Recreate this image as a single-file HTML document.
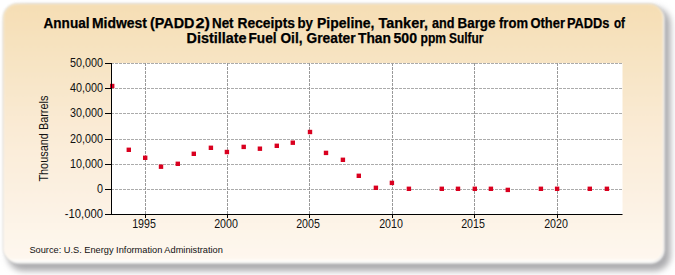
<!DOCTYPE html>
<html><head><meta charset="utf-8"><style>
html,body{margin:0;padding:0;background:#fff;width:675px;height:275px;overflow:hidden}
svg{display:block}
text{font-family:"Liberation Sans",sans-serif}
</style></head><body>
<svg width="675" height="275" viewBox="0 0 675 275">
<defs>
<linearGradient id="bg" x1="0" y1="0" x2="0" y2="1">
<stop offset="0" stop-color="#F5DEB4"/>
<stop offset="0.5" stop-color="#FAEBD6"/>
<stop offset="0.985" stop-color="#FEF7EE"/>
<stop offset="1" stop-color="#FFFFFF"/>
</linearGradient>
<filter id="sh" x="-5%" y="-5%" width="110%" height="115%"><feGaussianBlur stdDeviation="3"/></filter>
<filter id="soft" x="-2%" y="-2%" width="104%" height="104%"><feGaussianBlur stdDeviation="1.1"/></filter>
</defs>
<rect x="7.5" y="7.5" width="663" height="263.5" rx="16" ry="16" fill="#acacaf" filter="url(#sh)"/>
<rect x="5" y="5.5" width="659.5" height="258" rx="14" ry="14" fill="#fff" filter="url(#soft)"/>
<rect x="3.5" y="4" width="659.5" height="258" rx="14" ry="14" fill="none" stroke="#8a8a80" stroke-opacity="0.25" stroke-width="1.5" filter="url(#soft)"/>
<rect x="3.5" y="4" width="659.5" height="258" rx="14" ry="14" fill="url(#bg)" filter="url(#soft)"/>

<rect x="111" y="63" width="511.5" height="151" fill="#fff"/>
<line x1="111" y1="63.5" x2="622.5" y2="63.5" stroke="#ababab" stroke-width="1" stroke-dasharray="3,1"/>
<line x1="111" y1="88.5" x2="622.5" y2="88.5" stroke="#ababab" stroke-width="1" stroke-dasharray="3,1"/>
<line x1="111" y1="113.5" x2="622.5" y2="113.5" stroke="#ababab" stroke-width="1" stroke-dasharray="3,1"/>
<line x1="111" y1="139.5" x2="622.5" y2="139.5" stroke="#ababab" stroke-width="1" stroke-dasharray="3,1"/>
<line x1="111" y1="164.5" x2="622.5" y2="164.5" stroke="#ababab" stroke-width="1" stroke-dasharray="3,1"/>
<line x1="111" y1="189.5" x2="622.5" y2="189.5" stroke="#ababab" stroke-width="1" stroke-dasharray="3,1"/>
<line x1="145.5" y1="63" x2="145.5" y2="214" stroke="#999999" stroke-width="1" stroke-dasharray="3,1"/>
<line x1="227.5" y1="63" x2="227.5" y2="214" stroke="#999999" stroke-width="1" stroke-dasharray="3,1"/>
<line x1="309.5" y1="63" x2="309.5" y2="214" stroke="#999999" stroke-width="1" stroke-dasharray="3,1"/>
<line x1="392.5" y1="63" x2="392.5" y2="214" stroke="#999999" stroke-width="1" stroke-dasharray="3,1"/>
<line x1="474.5" y1="63" x2="474.5" y2="214" stroke="#999999" stroke-width="1" stroke-dasharray="3,1"/>
<line x1="557.5" y1="63" x2="557.5" y2="214" stroke="#999999" stroke-width="1" stroke-dasharray="3,1"/>
<rect x="110.00" y="83.80" width="4.4" height="4.4" fill="#D9001F"/>
<rect x="126.60" y="147.60" width="4.4" height="4.4" fill="#D9001F"/>
<rect x="143.00" y="155.60" width="4.4" height="4.4" fill="#D9001F"/>
<rect x="158.80" y="164.50" width="4.4" height="4.4" fill="#D9001F"/>
<rect x="175.60" y="161.60" width="4.4" height="4.4" fill="#D9001F"/>
<rect x="191.60" y="151.60" width="4.4" height="4.4" fill="#D9001F"/>
<rect x="208.70" y="145.60" width="4.4" height="4.4" fill="#D9001F"/>
<rect x="224.70" y="149.80" width="4.4" height="4.4" fill="#D9001F"/>
<rect x="241.50" y="144.70" width="4.4" height="4.4" fill="#D9001F"/>
<rect x="257.70" y="146.50" width="4.4" height="4.4" fill="#D9001F"/>
<rect x="274.60" y="143.60" width="4.4" height="4.4" fill="#D9001F"/>
<rect x="290.60" y="140.50" width="4.4" height="4.4" fill="#D9001F"/>
<rect x="307.80" y="129.80" width="4.4" height="4.4" fill="#D9001F"/>
<rect x="323.80" y="150.70" width="4.4" height="4.4" fill="#D9001F"/>
<rect x="340.70" y="157.60" width="4.4" height="4.4" fill="#D9001F"/>
<rect x="356.60" y="173.60" width="4.4" height="4.4" fill="#D9001F"/>
<rect x="373.70" y="185.60" width="4.4" height="4.4" fill="#D9001F"/>
<rect x="389.70" y="180.70" width="4.4" height="4.4" fill="#D9001F"/>
<rect x="406.70" y="186.60" width="4.4" height="4.4" fill="#D9001F"/>
<rect x="439.60" y="186.60" width="4.4" height="4.4" fill="#D9001F"/>
<rect x="455.80" y="186.60" width="4.4" height="4.4" fill="#D9001F"/>
<rect x="472.60" y="186.60" width="4.4" height="4.4" fill="#D9001F"/>
<rect x="488.70" y="186.60" width="4.4" height="4.4" fill="#D9001F"/>
<rect x="505.60" y="187.70" width="4.4" height="4.4" fill="#D9001F"/>
<rect x="538.70" y="186.60" width="4.4" height="4.4" fill="#D9001F"/>
<rect x="554.90" y="186.60" width="4.4" height="4.4" fill="#D9001F"/>
<rect x="587.60" y="186.60" width="4.4" height="4.4" fill="#D9001F"/>
<rect x="604.70" y="186.60" width="4.4" height="4.4" fill="#D9001F"/>
<rect x="111" y="63" width="1" height="152" fill="#000"/>
<rect x="111" y="214" width="511.5" height="1" fill="#000"/>
<rect x="105" y="63.0" width="6" height="1" fill="#000"/>
<text transform="translate(103,66.70) scale(0.9,1)" font-size="12" text-anchor="end" fill="#111">50,000</text>
<rect x="105" y="88.0" width="6" height="1" fill="#000"/>
<text transform="translate(103,91.70) scale(0.9,1)" font-size="12" text-anchor="end" fill="#111">40,000</text>
<rect x="105" y="113.0" width="6" height="1" fill="#000"/>
<text transform="translate(103,116.70) scale(0.9,1)" font-size="12" text-anchor="end" fill="#111">30,000</text>
<rect x="105" y="139.0" width="6" height="1" fill="#000"/>
<text transform="translate(103,142.70) scale(0.9,1)" font-size="12" text-anchor="end" fill="#111">20,000</text>
<rect x="105" y="164.0" width="6" height="1" fill="#000"/>
<text transform="translate(103,167.70) scale(0.9,1)" font-size="12" text-anchor="end" fill="#111">10,000</text>
<rect x="105" y="189.0" width="6" height="1" fill="#000"/>
<text transform="translate(103,192.70) scale(0.9,1)" font-size="12" text-anchor="end" fill="#111">0</text>
<rect x="105" y="214.0" width="6" height="1" fill="#000"/>
<text transform="translate(103,217.70) scale(0.94,1)" font-size="12" text-anchor="end" fill="#111">-10,000</text>
<rect x="145.0" y="215" width="1" height="3" fill="#000"/>
<text transform="translate(144.00,227.6) scale(0.89,1)" font-size="12" text-anchor="middle" fill="#111">1995</text>
<rect x="227.0" y="215" width="1" height="3" fill="#000"/>
<text transform="translate(226.00,227.6) scale(0.89,1)" font-size="12" text-anchor="middle" fill="#111">2000</text>
<rect x="309.0" y="215" width="1" height="3" fill="#000"/>
<text transform="translate(308.00,227.6) scale(0.89,1)" font-size="12" text-anchor="middle" fill="#111">2005</text>
<rect x="392.0" y="215" width="1" height="3" fill="#000"/>
<text transform="translate(391.00,227.6) scale(0.89,1)" font-size="12" text-anchor="middle" fill="#111">2010</text>
<rect x="474.0" y="215" width="1" height="3" fill="#000"/>
<text transform="translate(473.00,227.6) scale(0.89,1)" font-size="12" text-anchor="middle" fill="#111">2015</text>
<rect x="557.0" y="215" width="1" height="3" fill="#000"/>
<text transform="translate(556.00,227.6) scale(0.89,1)" font-size="12" text-anchor="middle" fill="#111">2020</text>
<text x="43.50" y="28" font-size="14" font-weight="bold" fill="#000" stroke="#000" stroke-width="0.25" textLength="46.00" lengthAdjust="spacingAndGlyphs">Annual</text>
<text x="92.00" y="28" font-size="14" font-weight="bold" fill="#000" stroke="#000" stroke-width="0.25" textLength="55.00" lengthAdjust="spacingAndGlyphs">Midwest</text>
<text x="150.00" y="28" font-size="14" font-weight="bold" fill="#000" stroke="#000" stroke-width="0.25" textLength="44.50" lengthAdjust="spacingAndGlyphs">(PADD</text>
<text x="195.50" y="28" font-size="14" font-weight="bold" fill="#000" stroke="#000" stroke-width="0.25" textLength="14.50" lengthAdjust="spacingAndGlyphs">2)</text>
<text x="212.00" y="28" font-size="14" font-weight="bold" fill="#000" stroke="#000" stroke-width="0.25" textLength="21.50" lengthAdjust="spacingAndGlyphs">Net</text>
<text x="237.50" y="28" font-size="14" font-weight="bold" fill="#000" stroke="#000" stroke-width="0.25" textLength="57.50" lengthAdjust="spacingAndGlyphs">Receipts</text>
<text x="297.50" y="28" font-size="14" font-weight="bold" fill="#000" stroke="#000" stroke-width="0.25" textLength="15.50" lengthAdjust="spacingAndGlyphs">by</text>
<text x="317.00" y="28" font-size="14" font-weight="bold" fill="#000" stroke="#000" stroke-width="0.25" textLength="57.50" lengthAdjust="spacingAndGlyphs">Pipeline,</text>
<text x="378.50" y="28" font-size="14" font-weight="bold" fill="#000" stroke="#000" stroke-width="0.25" textLength="49.50" lengthAdjust="spacingAndGlyphs">Tanker,</text>
<text x="432.00" y="28" font-size="14" font-weight="bold" fill="#000" stroke="#000" stroke-width="0.25" textLength="22.50" lengthAdjust="spacingAndGlyphs">and</text>
<text x="457.50" y="28" font-size="14" font-weight="bold" fill="#000" stroke="#000" stroke-width="0.25" textLength="38.00" lengthAdjust="spacingAndGlyphs">Barge</text>
<text x="499.00" y="28" font-size="14" font-weight="bold" fill="#000" stroke="#000" stroke-width="0.25" textLength="29.00" lengthAdjust="spacingAndGlyphs">from</text>
<text x="530.50" y="28" font-size="14" font-weight="bold" fill="#000" stroke="#000" stroke-width="0.25" textLength="34.50" lengthAdjust="spacingAndGlyphs">Other</text>
<text x="567.00" y="28" font-size="14" font-weight="bold" fill="#000" stroke="#000" stroke-width="0.25" textLength="42.50" lengthAdjust="spacingAndGlyphs">PADDs</text>
<text x="614.00" y="28" font-size="14" font-weight="bold" fill="#000" stroke="#000" stroke-width="0.25" textLength="11.00" lengthAdjust="spacingAndGlyphs">of</text>
<text x="186.50" y="43" font-size="14" font-weight="bold" fill="#000" stroke="#000" stroke-width="0.25" textLength="60.00" lengthAdjust="spacingAndGlyphs">Distillate</text>
<text x="248.50" y="43" font-size="14" font-weight="bold" fill="#000" stroke="#000" stroke-width="0.25" textLength="28.00" lengthAdjust="spacingAndGlyphs">Fuel</text>
<text x="280.50" y="43" font-size="14" font-weight="bold" fill="#000" stroke="#000" stroke-width="0.25" textLength="22.00" lengthAdjust="spacingAndGlyphs">Oil,</text>
<text x="306.50" y="43" font-size="14" font-weight="bold" fill="#000" stroke="#000" stroke-width="0.25" textLength="49.00" lengthAdjust="spacingAndGlyphs">Greater</text>
<text x="358.00" y="43" font-size="14" font-weight="bold" fill="#000" stroke="#000" stroke-width="0.25" textLength="33.00" lengthAdjust="spacingAndGlyphs">Than</text>
<text x="393.50" y="43" font-size="14" font-weight="bold" fill="#000" stroke="#000" stroke-width="0.25" textLength="23.50" lengthAdjust="spacingAndGlyphs">500</text>
<text x="420.50" y="43" font-size="14" font-weight="bold" fill="#000" stroke="#000" stroke-width="0.25" textLength="25.50" lengthAdjust="spacingAndGlyphs">ppm</text>
<text x="449.00" y="43" font-size="14" font-weight="bold" fill="#000" stroke="#000" stroke-width="0.25" textLength="34.50" lengthAdjust="spacingAndGlyphs">Sulfur</text>
<text x="0" y="0" font-size="12" text-anchor="middle" fill="#111" textLength="86" lengthAdjust="spacingAndGlyphs" transform="translate(47.8,138.6) rotate(-90)">Thousand Barrels</text>
<text x="29.4" y="252.7" font-size="9.5" fill="#111" textLength="193.5" lengthAdjust="spacingAndGlyphs">Source: U.S. Energy Information Administration</text>
</svg></body></html>
